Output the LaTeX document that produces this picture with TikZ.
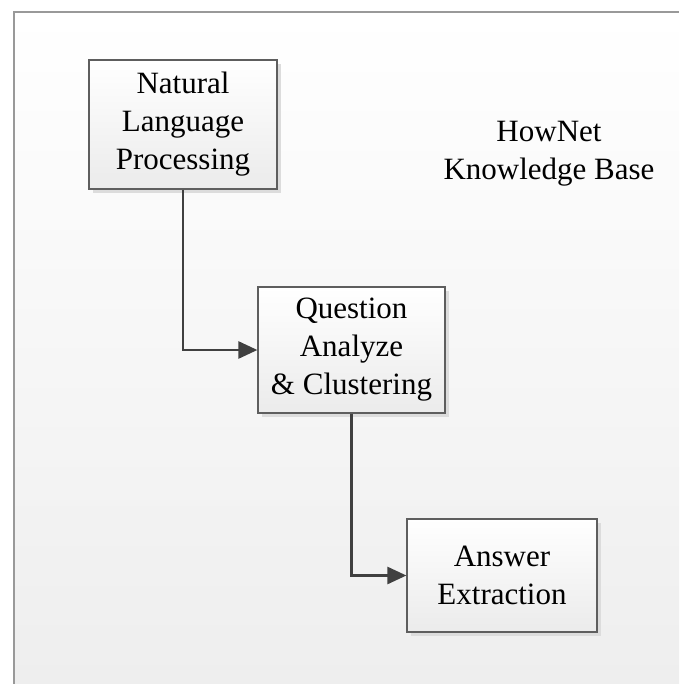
\documentclass[tikz,border=0pt]{standalone}
\usepackage{fontspec}
\setmainfont{Liberation Serif}
\usetikzlibrary{arrows.meta,shadows}
\definecolor{framegray}{HTML}{999999}
\definecolor{edgegray}{HTML}{5E5E5E}
\definecolor{arrowgray}{HTML}{404040}
\definecolor{shadowgray}{HTML}{DCDCDC}
\definecolor{pagebottom}{HTML}{EEEEEE}
\definecolor{boxbottom}{HTML}{EBEBEB}
\tikzset{
  stagebox/.style={draw=edgegray, line width=1.2pt,
    top color=white, bottom color=boxbottom,
    general shadow={fill=shadowgray, shadow xshift=4pt, shadow yshift=-4pt},
    align=center, inner sep=0pt,
    font=\fontsize{31}{38}\selectfont},
  flow/.style={draw=arrowgray, line width=2.6pt,
    -{Triangle[length=19pt,width=17pt]}},
  label/.style={align=center, font=\fontsize{31}{38}\selectfont}
}
\begin{document}
\begin{tikzpicture}[x=1pt,y=-1pt]
  \useasboundingbox (0,0) rectangle (679,684);
  \fill[white] (0,0) rectangle (679,684);
  % page background with gradient and frame
  \shade[top color=white, bottom color=pagebottom] (14,12) rectangle (679,684);
  \draw[framegray, line width=2pt] (14,684) -- (14,12) -- (679,12);

  % processing stages
  \node[stagebox, minimum width=188pt, minimum height=129pt]
    (nlp) at (183,124.5) {Natural\\Language\\Processing};
  \node[stagebox, minimum width=187pt, minimum height=126pt]
    (qac) at (351.5,350) {Question\\Analyze\\\& Clustering};
  \node[stagebox, minimum width=190pt, minimum height=113pt]
    (ans) at (502,575.5) {Answer\\Extraction};

  % knowledge base label
  \node[label] (kb) at (549,154) {HowNet\\Knowledge Base};

  % connectors
  \draw[flow] (nlp.south) |- (qac.west);
  \draw[flow] (qac.south) |- (ans.west);
\end{tikzpicture}
\end{document}
